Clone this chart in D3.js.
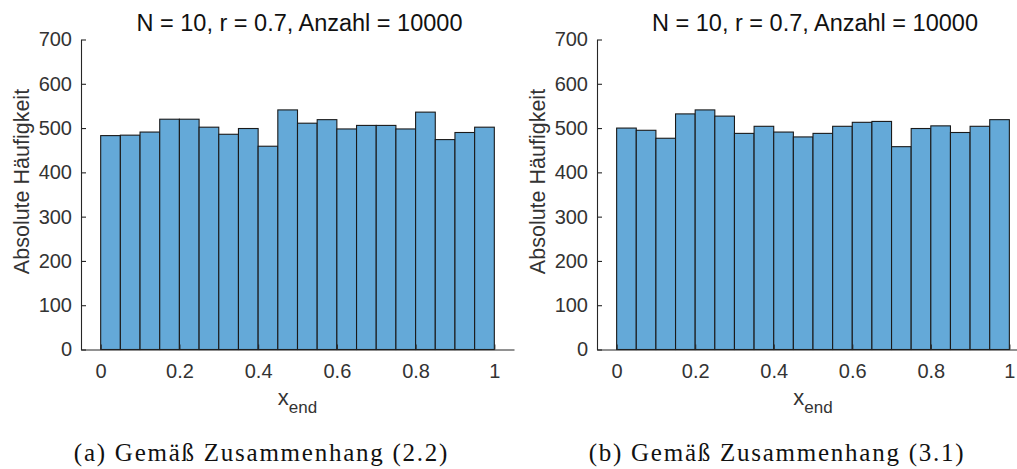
<!DOCTYPE html>
<html>
<head>
<meta charset="utf-8">
<script src="https://cdn.jsdelivr.net/npm/d3@7"></script>
<style>
  html, body { margin: 0; padding: 0; background: #fff; }
  svg { display: block; }
</style>
</head>
<body>
<svg id="chart" width="1017" height="469"></svg>
<script>
// Histogram bin edges (20 bins on [0, 1])
const binEdges = [0, 0.05, 0.1, 0.15, 0.2, 0.25, 0.3, 0.35, 0.4, 0.45, 0.5,
                  0.55, 0.6, 0.65, 0.7, 0.75, 0.8, 0.85, 0.9, 0.95, 1];

// Counts per bin, relation (2.2)
const countsA = [483, 484, 491, 520, 520, 502, 486, 499, 459, 541,
                 511, 519, 498, 506, 506, 498, 536, 474, 490, 502];

// Counts per bin, relation (3.1)
const countsB = [500, 495, 477, 532, 541, 527, 488, 504, 491, 480,
                 488, 504, 513, 515, 458, 499, 505, 490, 504, 519];

const xTicks = [0, 0.2, 0.4, 0.6, 0.8, 1];
const yTicks = [0, 100, 200, 300, 400, 500, 600, 700];

const titleText = "N = 10, r = 0.7, Anzahl = 10000";
const yLabelText = "Absolute Häufigkeit";
const captions = ["(a) Gemäß Zusammenhang (2.2)", "(b) Gemäß Zusammenhang (3.1)"];

const svg = d3.select("#chart");
const sans = "'Liberation Sans', Arial, Helvetica, sans-serif";
const serif = "'Liberation Serif', 'Times New Roman', serif";
const axisColor = "#262626";

const panels = [
  { counts: countsA, left: 81, right: 514, caption: captions[0], captionX: 261.5 },
  { counts: countsB, left: 597, right: 1029, caption: captions[1], captionX: 777 }
];

const plotTop = 39.5, plotBottom = 349.5;

panels.forEach(p => {
  const g = svg.append("g");
  const x = d3.scaleLinear().domain([-0.05, 1.05]).range([p.left, p.right]);
  const y = d3.scaleLinear().domain([0, 700]).range([plotBottom, plotTop]);

  // bars
  const bins = p.counts.map((c, i) => ({ x0: binEdges[i], x1: binEdges[i + 1], n: c }));
  g.append("g").selectAll("rect").data(bins).join("rect")
    .attr("x", d => x(d.x0))
    .attr("y", d => y(d.n))
    .attr("width", d => x(d.x1) - x(d.x0))
    .attr("height", d => y(0) - y(d.n))
    .attr("fill", "#64a9d8")
    .attr("stroke", "#1a1a1a")
    .attr("stroke-width", 1.1);

  // x axis
  const xAxis = g.append("g").attr("transform", `translate(0,${plotBottom})`)
    .call(d3.axisBottom(x).tickValues(xTicks).tickSizeInner(-5).tickSizeOuter(0)
      .tickPadding(14).tickFormat(d => d3.format("")(d)));
  // y axis
  const yAxis = g.append("g").attr("transform", `translate(${p.left},0)`)
    .call(d3.axisLeft(y).tickValues(yTicks).tickSizeInner(-5).tickSizeOuter(0)
      .tickPadding(9));

  [xAxis, yAxis].forEach(a => {
    a.select(".domain").attr("stroke", axisColor).attr("stroke-width", 1.1);
    a.selectAll(".tick line").attr("stroke", axisColor).attr("stroke-width", 1.1);
    a.selectAll(".tick text").attr("font-size", 20).attr("font-family", sans).attr("fill", "#333");
  });

  const cx = (p.left + p.right) / 2;

  // title
  g.append("text").attr("x", cx + 2).attr("y", 31)
    .attr("text-anchor", "middle").attr("font-family", sans).attr("font-size", 23.5)
    .attr("fill", "#111").text(titleText);

  // y label
  g.append("text")
    .attr("transform", `translate(${p.left - 52},${(plotTop + plotBottom) / 2 - 13}) rotate(-90)`)
    .attr("text-anchor", "middle").attr("font-family", sans).attr("font-size", 21.5)
    .attr("fill", "#333").text(yLabelText);

  // x label with subscript
  const xl = g.append("text").attr("x", cx).attr("y", 405)
    .attr("text-anchor", "middle").attr("font-family", sans).attr("font-size", 22)
    .attr("fill", "#333");
  xl.append("tspan").text("x");
  xl.append("tspan").attr("font-size", 17).attr("dy", 8).text("end");

  // caption
  g.append("text").attr("x", p.captionX).attr("y", 461)
    .attr("text-anchor", "middle").attr("font-family", serif).attr("font-size", 25)
    .attr("letter-spacing", 1.75)
    .attr("fill", "#111").text(p.caption);
});
</script>
</body>
</html>
